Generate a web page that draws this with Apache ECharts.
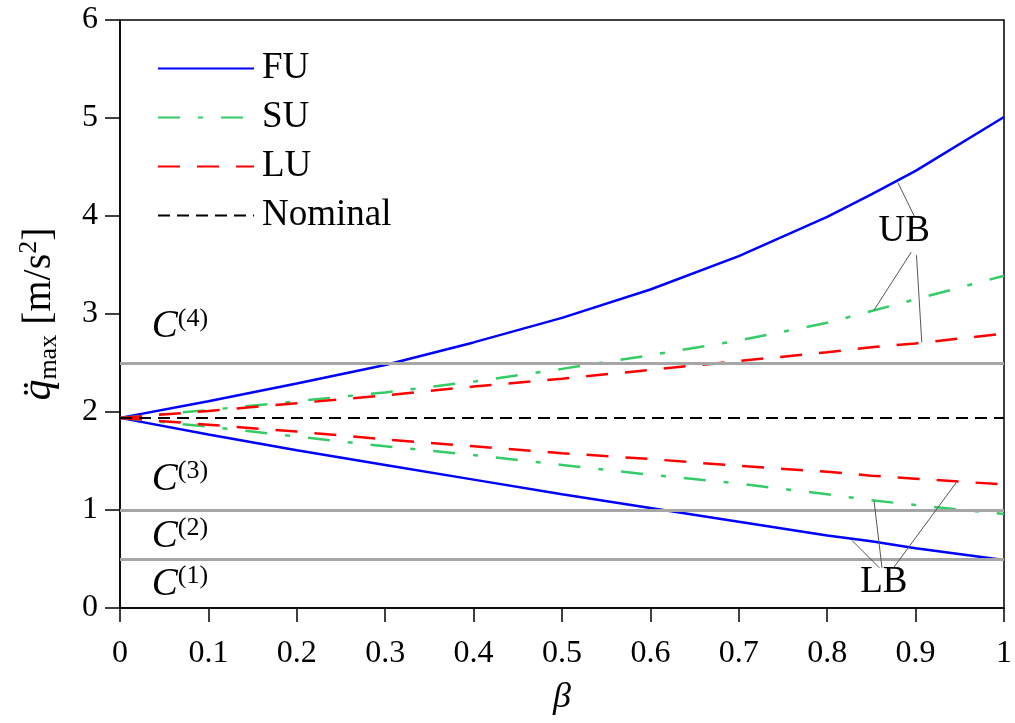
<!DOCTYPE html>
<html><head><meta charset="utf-8">
<script src="https://cdn.jsdelivr.net/npm/echarts@6/dist/echarts.min.js"></script>
<style>html,body{margin:0;padding:0;background:#fff}#c{width:1015px;height:723px}</style>
</head><body><div id="c"></div>
<script>
// ---- data ----
const beta = [0, 0.1, 0.2, 0.3, 0.4, 0.5, 0.6, 0.7, 0.8, 0.85, 0.9, 1.0];
const fuUpper = [1.94, 2.11, 2.29, 2.48, 2.71, 2.96, 3.25, 3.59, 3.99, 4.22, 4.46, 5.01];
const fuLower = [1.94, 1.77, 1.61, 1.46, 1.31, 1.16, 1.02, 0.88, 0.74, 0.68, 0.61, 0.49];
const suUpper = [1.94, 2.02, 2.11, 2.20, 2.31, 2.44, 2.58, 2.73, 2.91, 3.03, 3.15, 3.39];
const suLower = [1.94, 1.85, 1.75, 1.65, 1.56, 1.46, 1.36, 1.27, 1.16, 1.10, 1.05, 0.96];
const luUpper = [1.94, 2.01, 2.09, 2.17, 2.26, 2.34, 2.43, 2.52, 2.61, 2.66, 2.70, 2.80];
const luLower = [1.94, 1.87, 1.80, 1.72, 1.65, 1.58, 1.52, 1.45, 1.39, 1.35, 1.32, 1.26];
const nominal = [1.94, 1.94, 1.94, 1.94, 1.94, 1.94, 1.94, 1.94, 1.94, 1.94, 1.94, 1.94];
const boundaries = [2.5, 1.0, 0.5];
const legendNames = ['FU', 'SU', 'LU', 'Nominal'];
// region labels: [beta, value, superscript]
const regionLabels = [[0.036, 2.87, '(4)'], [0.036, 1.31, '(3)'], [0.036, 0.73, '(2)'], [0.036, 0.24, '(1)']];
// annotation texts and leader lines (data coordinates)
const boundLabels = [[0.887, 3.84, 'UB'], [0.864, 0.26, 'LB']];
const leaders = [
  [[0.880, 4.34], [0.899, 3.99]], [[0.895, 3.63], [0.853, 3.04]], [[0.901, 3.60], [0.907, 2.71]],
  [[0.828, 0.69], [0.859, 0.41]], [[0.853, 1.09], [0.862, 0.41]], [[0.946, 1.28], [0.875, 0.41]]
];

const serif = '"Liberation Serif","Times New Roman",serif';
const pairs = v => beta.map((b, i) => [b, v[i]]);
const chart = echarts.init(document.getElementById('c'));

function lineSeries(name, values, color, type, width) {
  return {
    name: name, type: 'line', data: pairs(values), symbol: 'none', showSymbol: false,
    smooth: false, z: 3, silent: true,
    itemStyle: { color: color },
    lineStyle: { color: color, width: width, type: type }
  };
}

const option = {
  animation: false,
  backgroundColor: '#fff',
  grid: { left: 120, right: 10, top: 20, bottom: 115, show: true, borderColor: '#000', borderWidth: 1.5, backgroundColor: 'transparent' },
  legend: {
    data: legendNames, orient: 'vertical', left: 157, top: 50, padding: 0,
    itemWidth: 96, itemHeight: 14, itemGap: 12,
    itemStyle: { opacity: 0, borderWidth: 0 },
    textStyle: { fontFamily: serif, fontSize: 37, color: '#000', padding: [0, 0, 0, 3] },
    selectedMode: false
  },
  xAxis: {
    type: 'value', min: 0, max: 1, interval: 0.1,
    name: 'β', nameLocation: 'middle', nameGap: 72,
    nameTextStyle: { fontFamily: serif, fontSize: 36, fontStyle: 'italic', color: '#000' },
    axisLine: { show: true, lineStyle: { color: '#000', width: 1.5 } },
    axisTick: { show: true, inside: false, length: 14, lineStyle: { color: '#000', width: 1.5 } },
    axisLabel: { fontFamily: serif, fontSize: 32, color: '#000', margin: 30 },
    splitLine: { show: false }
  },
  yAxis: {
    type: 'value', min: 0, max: 6, interval: 1,
    name: '{q|q̈}{sub|max}{t| [m/s}{sup|2}{t|]}', nameLocation: 'middle', nameGap: 58, nameRotate: 90,
    nameTextStyle: {
      fontFamily: serif, fontSize: 40, color: '#000',
      rich: {
        q: { fontFamily: serif, fontSize: 42, fontStyle: 'italic', color: '#000', lineHeight: 46 },
        sub: { fontFamily: serif, fontSize: 26, color: '#000', lineHeight: 26, verticalAlign: 'bottom' },
        t: { fontFamily: serif, fontSize: 40, color: '#000', lineHeight: 46 },
        sup: { fontFamily: serif, fontSize: 26, color: '#000', lineHeight: 22, verticalAlign: 'top' }
      }
    },
    axisLine: { show: true, lineStyle: { color: '#000', width: 1.5 } },
    axisTick: { show: true, inside: false, length: 15, lineStyle: { color: '#000', width: 1.5 } },
    axisLabel: { fontFamily: serif, fontSize: 32, color: '#000', margin: 22 },
    splitLine: { show: false }
  },
  series: [
    {
      type: 'line', data: [], z: 1, silent: true,
      markLine: {
        silent: true, symbol: ['none', 'none'], animation: false,
        label: { show: false },
        lineStyle: { color: '#a6a6a6', width: 3, type: 'solid' },
        data: boundaries.map(v => ({ yAxis: v }))
      }
    },
    {
      type: 'line', data: [], z: 2, silent: true,
      markLine: {
        silent: true, symbol: ['none', 'none'], animation: false,
        label: { show: false },
        lineStyle: { color: '#555', width: 1, type: 'solid' },
        data: leaders.map(p => [{ coord: p[0] }, { coord: p[1] }])
      }
    },
    lineSeries('FU', fuUpper, '#0000ff', 'solid', 2.5),
    lineSeries('FU', fuLower, '#0000ff', 'solid', 2.5),
    lineSeries('SU', suUpper, '#33cc66', [22, 18, 5, 18], 2.5),
    lineSeries('SU', suLower, '#33cc66', [22, 18, 5, 18], 2.5),
    lineSeries('LU', luUpper, '#ff0000', [22, 17], 2.5),
    lineSeries('LU', luLower, '#ff0000', [22, 17], 2.5),
    lineSeries('Nominal', nominal, '#000000', [12, 7], 2),
    {
      type: 'scatter', symbolSize: 0, z: 5, silent: true,
      itemStyle: { opacity: 1 },
      data: regionLabels.map(r => ({
        value: [r[0], r[1]],
        label: { show: true, position: 'right', distance: 0, formatter: '{c|C}{s|' + r[2] + '}' }
      })).concat(boundLabels.map(r => ({
        value: [r[0], r[1]],
        label: { show: true, position: 'inside', formatter: '{b|' + r[2] + '}' }
      }))),
      label: {
        color: '#000', textBorderWidth: 0, opacity: 1,
        rich: {
          c: { fontFamily: serif, fontSize: 39, fontStyle: 'italic', color: '#000', lineHeight: 42, textBorderWidth: 0 },
          s: { fontFamily: serif, fontSize: 26, color: '#000', lineHeight: 24, verticalAlign: 'top', textBorderWidth: 0 },
          b: { fontFamily: serif, fontSize: 37, color: '#000', lineHeight: 40, textBorderWidth: 0 }
        }
      }
    }
  ]
};
chart.setOption(option);
</script>
</body></html>
